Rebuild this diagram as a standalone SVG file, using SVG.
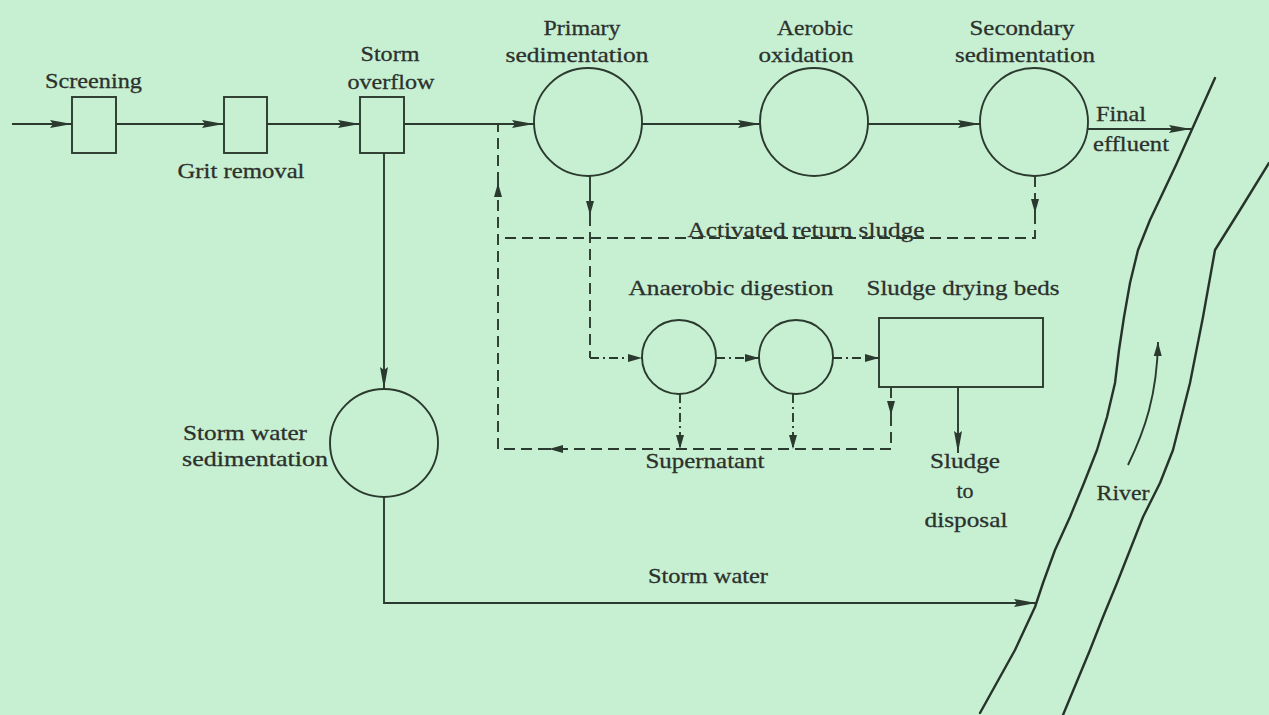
<svg xmlns="http://www.w3.org/2000/svg" width="1269" height="715" viewBox="0 0 1269 715">
<defs>
<marker id="arr" markerUnits="userSpaceOnUse" markerWidth="24" markerHeight="12" refX="22" refY="5" orient="auto">
<path d="M0,1 L22,5 L0,9 L3,5 z" fill="#2b3a2e"/>
</marker>
<marker id="arrs" markerUnits="userSpaceOnUse" markerWidth="15" markerHeight="10" refX="14" refY="4.5" orient="auto">
<path d="M0,0.5 L14,4.5 L0,8.5 z" fill="#2b3a2e"/>
</marker>
</defs>
<style>
.bg{fill:#c7efd1}
.nd{fill:none;stroke:#2b3a2e;stroke-width:1.9}
.ln{fill:none;stroke:#2b3a2e;stroke-width:1.9}
.ds{stroke-dasharray:11 6}
.dd{stroke-dasharray:9 4 2 4}
.a{marker-end:url(#arr)}
.as{marker-end:url(#arrs)}
.rv{fill:none;stroke:#26332a;stroke-width:2.4;stroke-linejoin:round;stroke-linecap:round}
text{font-family:"Liberation Serif","Times New Roman",serif;font-size:22px;fill:#2c312d;stroke:#2c312d;stroke-width:0.3}
.m{text-anchor:middle}
</style>
<rect class="bg" x="0" y="0" width="1269" height="715"/>

<g id="river">
<polyline class="rv" points="1215,78 1176,165 1150,220 1138,250 1130,283 1124,317 1119,350 1115,383 1107,417 1097,450 1084,483 1070,517 1055,550 1043,583 1035,607 1015,650 980,713"/>
<polyline class="rv" points="1269,163 1240,210 1215,250 1203,317 1190,383 1173,450 1160,483 1143,517 1130,550 1117,583 1103,617 1090,650 1063,715"/>
<text class="m" x="1123" y="500" textLength="53" lengthAdjust="spacingAndGlyphs">River</text>
</g>

<g id="screening">
<rect class="nd" x="72" y="97" width="44" height="56"/>
<text class="m" x="93.5" y="88" textLength="97" lengthAdjust="spacingAndGlyphs">Screening</text>
</g>
<g id="grit">
<rect class="nd" x="224" y="97" width="43" height="56"/>
<text class="m" x="241" y="178" textLength="127" lengthAdjust="spacingAndGlyphs">Grit removal</text>
</g>
<g id="storm-overflow">
<rect class="nd" x="360" y="97" width="44" height="56"/>
<text class="m" x="390" y="61" textLength="59" lengthAdjust="spacingAndGlyphs">Storm</text>
<text class="m" x="391" y="89" textLength="87" lengthAdjust="spacingAndGlyphs">overflow</text>
</g>
<g id="primary">
<circle class="nd" cx="588" cy="122" r="54"/>
<text class="m" x="582" y="35" textLength="77" lengthAdjust="spacingAndGlyphs">Primary</text>
<text class="m" x="577" y="62" textLength="143" lengthAdjust="spacingAndGlyphs">sedimentation</text>
</g>
<g id="aerobic">
<circle class="nd" cx="814" cy="122" r="54"/>
<text class="m" x="815" y="35" textLength="76" lengthAdjust="spacingAndGlyphs">Aerobic</text>
<text class="m" x="806" y="62" textLength="95" lengthAdjust="spacingAndGlyphs">oxidation</text>
</g>
<g id="secondary">
<circle class="nd" cx="1034" cy="122" r="54"/>
<text class="m" x="1022" y="35" textLength="105" lengthAdjust="spacingAndGlyphs">Secondary</text>
<text class="m" x="1025" y="62" textLength="140" lengthAdjust="spacingAndGlyphs">sedimentation</text>
</g>
<g id="digester1">
<circle class="nd" cx="679" cy="357" r="37"/>
</g>
<g id="digester2">
<circle class="nd" cx="796" cy="357" r="37"/>
</g>
<g id="digestion-label">
<text class="m" x="731" y="295" textLength="205" lengthAdjust="spacingAndGlyphs">Anaerobic digestion</text>
</g>
<g id="drying-beds">
<rect class="nd" x="879" y="318" width="164" height="69"/>
<text class="m" x="963" y="295" textLength="193" lengthAdjust="spacingAndGlyphs">Sludge drying beds</text>
</g>
<g id="storm-sed">
<circle class="nd" cx="384" cy="443" r="54"/>
<text x="183" y="440" textLength="124" lengthAdjust="spacingAndGlyphs">Storm water</text>
<text x="182" y="466" textLength="146" lengthAdjust="spacingAndGlyphs">sedimentation</text>
</g>
<g id="disposal">
<text class="m" x="965" y="468" textLength="70" lengthAdjust="spacingAndGlyphs">Sludge</text>
<text class="m" x="965" y="498">to</text>
<text class="m" x="966" y="527" textLength="83" lengthAdjust="spacingAndGlyphs">disposal</text>
</g>

<g id="connectors">
<path class="ln a" d="M12,124 H72"/>
<path class="ln a" d="M116,124 H224"/>
<path class="ln a" d="M267,124 H360"/>
<path class="ln a" d="M404,124 H534"/>
<path class="ln a" d="M642,124 H760"/>
<path class="ln a" d="M868,124 H980"/>
<path class="ln a" d="M1088,129 H1191"/>
<path class="ln a" d="M384,153 V389"/>
<path class="ln a" d="M384,497 V603 H1036"/>
<path class="ln as" d="M590,176 V215"/>
<path class="ln ds" d="M590,215 V358"/>
<path class="ln dd as" d="M590,358 H642"/>
<path class="ln dd as" d="M716,358 H759"/>
<path class="ln dd as" d="M833,358 H879"/>
<path class="ln dd as" d="M680,394 V449"/>
<path class="ln dd as" d="M793,394 V449"/>
<path class="ln ds as" d="M891,387 V415"/>
<path class="ln ds as" d="M891,415 V449 H549"/>
<path class="ln ds as" d="M549,449 H498 V183"/>
<path class="ln ds" d="M498,183 V124"/>
<path class="ln ds as" d="M1035,176 V213"/>
<path class="ln ds" d="M1035,213 V238 H498"/>
<path class="ln a" d="M958,387 V453"/>
<path class="ln as" d="M1128,465 C1145,430 1157,395 1158,342"/>
<text class="m" x="806" y="237" textLength="237" lengthAdjust="spacingAndGlyphs">Activated return sludge</text>
<text class="m" x="705" y="468" textLength="119" lengthAdjust="spacingAndGlyphs">Supernatant</text>
<text x="1096" y="121" textLength="50" lengthAdjust="spacingAndGlyphs">Final</text>
<text x="1093" y="151" textLength="76" lengthAdjust="spacingAndGlyphs">effluent</text>
<text class="m" x="708" y="583" textLength="120" lengthAdjust="spacingAndGlyphs">Storm water</text>
</g>
</svg>
